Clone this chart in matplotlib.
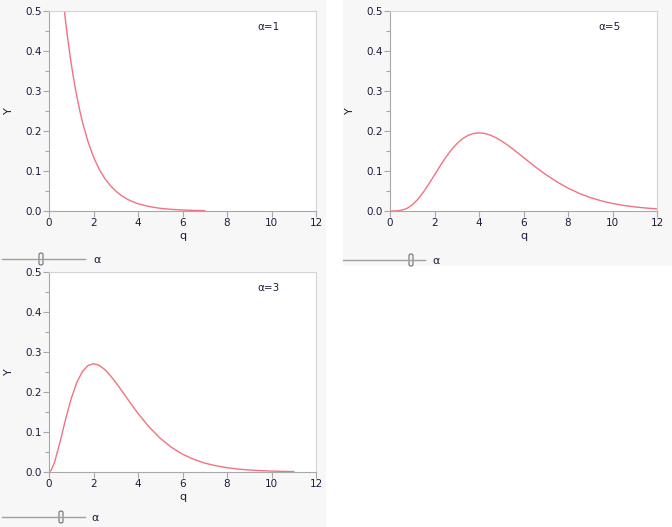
import numpy as np
import matplotlib
matplotlib.use("Agg")
import matplotlib.pyplot as plt
from matplotlib.patches import Rectangle, FancyBboxPatch
from matplotlib.lines import Line2D

# gamma densities
q_a1 = [0.7, 0.75, 0.8, 0.85, 0.9, 0.95, 1.0, 1.1, 1.2, 1.3, 1.4, 1.5, 1.75, 2.0, 2.25, 2.5, 2.75, 3.0, 3.25,
        3.5, 3.75, 4.0, 4.5, 5.0, 5.5, 6.0, 6.5, 7.0]
y_a1 = [0.497, 0.472, 0.449, 0.427, 0.407, 0.387, 0.368, 0.333, 0.301, 0.273, 0.247, 0.223, 0.174, 0.135,
        0.105, 0.082, 0.064, 0.050, 0.0388, 0.030, 0.0235, 0.018, 0.011, 0.0067, 0.0041, 0.0025, 0.0015, 0.0009]

q_a3 = [0, 0.1, 0.25, 0.5, 0.75, 1.0, 1.25, 1.5, 1.75, 2.0, 2.25, 2.5, 2.75, 3.0, 3.25, 3.5, 3.75, 4.0, 4.5,
        5.0, 5.5, 6.0, 6.5, 7.0, 7.5, 8.0, 8.5, 9.0, 9.5, 10.0, 10.5, 11.0]
y_a3 = [0, 0.0045, 0.0243, 0.0758, 0.1329, 0.1839, 0.2238, 0.2510, 0.2661, 0.2707, 0.2668, 0.2565, 0.2417,
        0.2240, 0.2048, 0.1850, 0.1654, 0.1465, 0.1125, 0.0842, 0.0618, 0.0446, 0.0318, 0.0223, 0.0156,
        0.0107, 0.0073, 0.0050, 0.0034, 0.0023, 0.0015, 0.0010]

q_a5 = [0, 0.25, 0.5, 0.75, 1.0, 1.25, 1.5, 1.75, 2.0, 2.25, 2.5, 2.75, 3.0, 3.25, 3.5, 3.75, 4.0, 4.25, 4.5,
        4.75, 5.0, 5.25, 5.5, 5.75, 6.0, 6.5, 7.0, 7.5, 8.0, 8.5, 9.0, 9.5, 10.0, 10.5, 11.0, 11.5, 12.0]
y_a5 = [0, 0.0001, 0.0016, 0.0062, 0.0153, 0.0291, 0.0471, 0.0679, 0.0902, 0.1126, 0.1336, 0.1523, 0.1680,
        0.1802, 0.1888, 0.1938, 0.1954, 0.1939, 0.1898, 0.1835, 0.1755, 0.1661, 0.1558, 0.1450, 0.1339,
        0.1116, 0.0912, 0.0729, 0.0573, 0.0442, 0.0337, 0.0254, 0.0189, 0.0139, 0.0102, 0.0074, 0.0053]

panel_labels = ["\u03b1=1", "\u03b1=5", "\u03b1=3"]
x_ticks = [0, 2, 4, 6, 8, 10, 12]
y_ticks = [0.0, 0.1, 0.2, 0.3, 0.4, 0.5]

W, H = 672, 527
fig = plt.figure(figsize=(W / 100, H / 100), dpi=100)
fig.patch.set_facecolor("white")

def px(x, y):
   return x / W, 1 - y / H

# grey panel backgrounds
for x0, y0, x1, y1 in [(0, 0, 326, 265), (343, 0, 672, 266), (0, 265, 326, 527)]:
   fig.patches.append(Rectangle((x0 / W, 1 - y1 / H), (x1 - x0) / W, (y1 - y0) / H,
                                transform=fig.transFigure, facecolor="#f7f7f7", edgecolor="none", zorder=-5))

line_col = "#f27282"
label_col = "#1c1c3c"

def make_panel(left_px, top_px, q, y, label):
   l, t = px(left_px, top_px)
   w = 267 / W
   h = 200 / H
   ax = fig.add_axes([l, t - h, w, h])
   ax.set_zorder(2)
   ax.set_facecolor("white")
   ax.plot(q, y, color=line_col, lw=1.0, clip_on=True)
   ax.set_xlim(0, 12)
   ax.set_ylim(0, 0.5)
   ax.set_xticks(x_ticks)
   ax.set_yticks(y_ticks)
   ax.set_yticks([0.05, 0.15, 0.25, 0.35, 0.45], minor=True)
   ax.set_yticklabels(["%.1f" % v for v in y_ticks])
   ax.tick_params(axis="both", colors="#a8a8a8", labelcolor=label_col, labelsize=7.5, length=4, width=0.8, pad=1)
   ax.tick_params(axis="y", which="minor", colors="#a8a8a8", length=3, width=0.8)
   for s in ["left", "bottom"]:
      ax.spines[s].set_color("#a8a8a8")
   for s in ["top", "right"]:
      ax.spines[s].set_color("#d4d4d4")
   ax.set_xlabel("q", fontsize=8, color=label_col, labelpad=2)
   ax.set_ylabel("Y", fontsize=8, color=label_col, labelpad=8)
   ax.text(0.78, 0.92, label, transform=ax.transAxes, fontsize=7.5, color=label_col, ha="left", va="center")
   return ax

make_panel(49, 11, q_a1, y_a1, panel_labels[0])
make_panel(390, 11, q_a5, y_a5, panel_labels[1])
make_panel(49, 272, q_a3, y_a3, panel_labels[2])

# sliders under each panel
def slider(x0, x1, thumb, yp, alpha_x):
   xa, ya = px(x0, yp)
   xb, _ = px(x1, yp)
   fig.lines.append(Line2D([xa, xb], [ya, ya], transform=fig.transFigure, color="#a0a0a0", lw=1.0))
   tx, ty = px(thumb - 2, yp - 6)
   fig.patches.append(FancyBboxPatch((tx, ty - 12 / H), 4 / W, 12 / H, boxstyle="round,pad=0,rounding_size=0.003",
                                     transform=fig.transFigure, facecolor="#f4f4f4", edgecolor="#707070", lw=0.8))
   ax_, ay_ = px(alpha_x, yp + 1)
   fig.text(ax_, ay_, "\u03b1", fontsize=8, color=label_col, ha="left", va="center")

slider(2, 85, 41, 259, 93)
slider(343, 425, 411, 260, 432)
slider(2, 85, 61, 517, 91)

plt.savefig("out.png", dpi=100)
plt.close()
